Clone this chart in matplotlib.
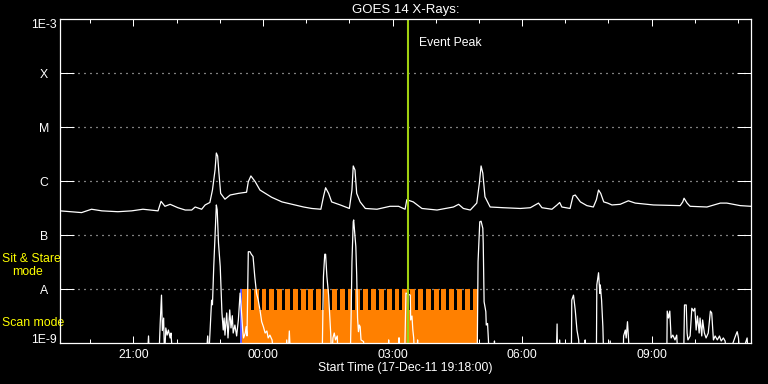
import matplotlib
matplotlib.use("Agg")
import matplotlib.pyplot as plt
from matplotlib.ticker import FixedLocator, NullLocator
import matplotlib.transforms as mtransforms

plt.rcParams['font.family'] = ['Liberation Sans', 'DejaVu Sans']
FS = 8.8

# ---------------- data ----------------
# time in decimal hours since 00:00 on 17-Dec-11 (24 = 00:00 on 18-Dec)
t_start, t_end = 19.3, 35.3
event_peak = 27.36

# GOES long channel (1-8 A), W/m^2
long_t = [19.30, 19.80, 20.03, 20.27, 20.64, 20.96, 21.22, 21.57, 21.64, 21.73,
          21.85, 22.03, 22.20, 22.35, 22.43, 22.58, 22.66, 22.77, 22.83, 22.89,
          22.92, 22.95, 22.98, 23.02, 23.12, 23.24, 23.43, 23.62, 23.66, 23.72,
          23.82, 23.93, 24.20, 24.44, 24.74, 24.94, 25.13, 25.34, 25.40, 25.45,
          25.52, 25.59, 25.79, 26.00, 26.06, 26.09, 26.13, 26.17, 26.25, 26.37,
          26.64, 26.94, 27.14, 27.29, 27.33, 27.48, 27.68, 28.03, 28.41, 28.53,
          28.64, 28.80, 28.95, 29.01, 29.05, 29.09, 29.14, 29.26, 29.57, 29.96,
          30.19, 30.38, 30.46, 30.69, 30.81, 30.87, 30.92, 31.11, 31.18, 31.23,
          31.35, 31.50, 31.65, 31.72, 31.77, 31.82, 31.89, 31.98, 32.08, 32.27,
          32.46, 32.62, 33.04, 33.66, 33.72, 33.75, 33.82, 33.89, 34.28, 34.59,
          34.74, 35.05, 35.30]
long_f = [2.8e-7, 2.6e-7, 3.0e-7, 2.8e-7, 2.7e-7, 2.8e-7, 3.0e-7, 2.8e-7, 4.2e-7, 3.4e-7,
          3.7e-7, 3.2e-7, 2.9e-7, 2.9e-7, 3.3e-7, 3.0e-7, 3.6e-7, 4.0e-7, 6.8e-7, 1.6e-6,
          3.3e-6, 2.9e-6, 1.4e-6, 5.9e-7, 4.6e-7, 5.5e-7, 5.9e-7, 6.2e-7, 9.7e-7, 1.24e-6,
          9.7e-7, 6.8e-7, 5.0e-7, 4.1e-7, 3.6e-7, 3.3e-7, 3.1e-7, 3.0e-7, 5.1e-7, 7.5e-7,
          5.9e-7, 4.1e-7, 3.6e-7, 3.1e-7, 6.8e-7, 1.9e-6, 1.6e-6, 5.9e-7, 4.1e-7, 3.1e-7,
          3.0e-7, 3.4e-7, 3.4e-7, 3.0e-7, 4.5e-7, 4.1e-7, 3.1e-7, 2.9e-7, 3.3e-7, 3.7e-7,
          3.1e-7, 2.9e-7, 3.9e-7, 9.1e-7, 1.9e-6, 1.4e-6, 5.1e-7, 3.3e-7, 3.2e-7, 3.1e-7,
          3.2e-7, 3.9e-7, 3.2e-7, 3.0e-7, 3.6e-7, 4.0e-7, 3.3e-7, 3.1e-7, 5.3e-7, 5.5e-7,
          4.1e-7, 3.5e-7, 3.3e-7, 4.5e-7, 6.8e-7, 5.9e-7, 4.1e-7, 3.9e-7, 3.6e-7, 3.7e-7,
          4.3e-7, 3.9e-7, 3.6e-7, 3.5e-7, 4.1e-7, 4.8e-7, 3.9e-7, 3.4e-7, 3.3e-7, 3.9e-7,
          3.9e-7, 3.5e-7, 3.4e-7]

# GOES short channel (0.5-4 A), W/m^2 (values below 1E-9 fall off the plot)
short_t = [19.30, 21.32, 21.35, 21.37, 21.59, 21.62, 21.65, 21.67, 21.70, 21.72,
           21.75, 21.78, 21.81, 21.85, 21.87, 21.91, 22.68, 22.72, 22.74, 22.77,
           22.81, 22.83, 22.86, 22.89, 22.92, 22.94, 22.97, 23.01, 23.05, 23.08,
           23.10, 23.12, 23.16, 23.19, 23.23, 23.26, 23.29, 23.31, 23.35, 23.39,
           23.43, 23.47, 23.50, 23.53, 23.55, 23.59, 23.61, 23.63, 23.66, 23.70,
           23.73, 23.77, 23.81, 23.85, 23.89, 23.93, 23.97, 24.01, 24.05, 24.09,
           24.12, 24.16, 24.21, 24.26, 24.53, 24.55, 24.58, 24.61, 24.64, 25.37,
           25.40, 25.43, 25.45, 25.48, 25.52, 25.54, 25.57, 25.59, 25.62, 25.65,
           25.68, 25.72, 25.74, 26.02, 26.04, 26.06, 26.09, 26.10, 26.13, 26.15,
           26.17, 26.19, 26.21, 26.23, 26.25, 26.27, 26.33, 26.35, 26.90, 26.91,
           26.92, 27.14, 27.15, 27.16, 27.28, 27.29, 27.31, 27.41, 27.42, 27.45,
           27.47, 27.49, 27.51, 27.57, 27.58, 27.59, 28.96, 28.98, 29.02, 29.05,
           29.09, 29.10, 29.12, 29.16, 29.17, 29.20, 29.22, 29.24, 29.35, 29.36,
           29.37, 30.79, 30.81, 30.82, 30.86, 30.87, 30.89, 31.14, 31.15, 31.19,
           31.23, 31.27, 31.31, 31.33, 31.45, 31.46, 31.47, 31.72, 31.73, 31.77,
           31.80, 31.81, 31.84, 31.87, 31.89, 32.02, 32.04, 32.06, 32.34, 32.35,
           32.39, 32.41, 32.44, 32.46, 32.49, 33.35, 33.36, 33.39, 33.42, 33.45,
           33.49, 33.54, 33.58, 33.61, 33.74, 33.76, 33.80, 33.82, 33.84, 33.89,
           33.93, 33.97, 34.00, 34.03, 34.06, 34.10, 34.12, 34.16, 34.18, 34.22,
           34.26, 34.31, 34.36, 34.39, 34.43, 34.47, 34.52, 34.57, 34.61, 34.66,
           34.70, 34.75, 34.94, 34.98, 35.01, 35.05, 35.21, 35.24, 35.30]
short_f = [5e-10, 5e-10, 1.35e-9, 5e-10, 5e-10, 2.3e-9, 7.7e-9, 1.7e-9, 2.9e-9, 5e-10,
           1.9e-9, 1.4e-9, 1.74e-9, 1.24e-9, 1.53e-9, 5e-10, 5e-10, 1.35e-9, 5e-10, 1.4e-9,
           6.2e-9, 5.1e-9, 2.6e-8, 9.3e-8, 3.6e-7, 2.9e-7, 7.1e-8, 2.6e-8, 3.6e-9, 1.74e-9,
           2.9e-9, 1.4e-9, 3.6e-9, 1.24e-9, 4.1e-9, 1.9e-9, 3.2e-9, 1.53e-9, 2.15e-9, 1.35e-9,
           2.67e-9, 8.4e-9, 4.1e-9, 1.74e-9, 1.24e-9, 1.53e-9, 2.0e-9, 1.35e-9, 4.9e-8, 4.9e-8,
           4.4e-8, 4.0e-8, 1.69e-8, 8.4e-9, 6.25e-9, 4.1e-9, 2.48e-9, 2.0e-9, 1.53e-9, 1.67e-9,
           1.24e-9, 1.4e-9, 1.14e-9, 5e-10, 5e-10, 1.14e-9, 5e-10, 1.67e-9, 5e-10, 5e-10,
           1.69e-8, 4.4e-8, 4.4e-8, 1.69e-8, 7.7e-9, 3.8e-9, 1.4e-9, 5e-10, 1.24e-9, 1.53e-9,
           1.14e-9, 1.35e-9, 5e-10, 5e-10, 2.9e-9, 3.2e-8, 1.76e-7, 1.9e-7, 9.3e-8, 6.1e-8,
           1.8e-8, 2.9e-9, 1.62e-9, 2.15e-9, 2.0e-9, 1.14e-9, 1.06e-9, 5e-10, 5e-10, 1.14e-9,
           5e-10, 5e-10, 1.25e-9, 5e-10, 5e-10, 1.22e-9, 8.4e-9, 7.7e-9, 2.67e-9, 3.16e-9,
           1.74e-9, 1.24e-9, 5e-10, 5e-10, 1.14e-9, 5e-10, 5e-10, 3.2e-8, 1.76e-7, 1.8e-7,
           1.33e-7, 7.0e-8, 5.8e-9, 3.8e-9, 2.15e-9, 2.3e-9, 1.14e-9, 5e-10, 5e-10, 1.09e-9,
           5e-10, 5e-10, 2.25e-9, 5e-10, 5e-10, 1.14e-9, 5e-10, 5e-10, 6.25e-9, 7.7e-9,
           4.1e-9, 1.74e-9, 1.14e-9, 5e-10, 5e-10, 1.14e-9, 5e-10, 5e-10, 1.19e-8, 2.0e-8,
           8.3e-9, 1.19e-8, 6.25e-9, 2.0e-9, 5e-10, 5e-10, 1.09e-9, 5e-10, 5e-10, 1.35e-9,
           1.74e-9, 1.24e-9, 2.48e-9, 1.35e-9, 5e-10, 5e-10, 3.9e-9, 2.9e-9, 3.9e-9, 1.24e-9,
           1.4e-9, 1.14e-9, 1.4e-9, 5e-10, 5e-10, 5.06e-9, 5.06e-9, 1.53e-9, 1.14e-9, 1.35e-9,
           4.4e-9, 3.9e-9, 4.4e-9, 1.74e-9, 3.16e-9, 1.53e-9, 2.9e-9, 1.35e-9, 2.67e-9, 1.53e-9,
           1.24e-9, 1.53e-9, 3.9e-9, 3.6e-9, 1.14e-9, 1.35e-9, 1.14e-9, 1.35e-9, 1.09e-9, 1.24e-9,
           1.09e-9, 5e-10, 1.35e-9, 1.62e-9, 1.24e-9, 5e-10, 1.24e-9, 5e-10, 5e-10]

# observing mode timeline
sit_stare_start, sit_stare_end = 23.458, 23.516
scan_start, scan_end = 23.516, 28.976
scan_gap_starts = [23.717, 23.899, 24.080, 24.261, 24.442, 24.623, 24.804, 24.985,
                   25.167, 25.348, 25.529, 25.710, 25.891, 26.072, 26.253, 26.434,
                   26.616, 26.797, 26.978, 27.159, 27.340, 27.521, 27.702, 27.883,
                   28.065, 28.246, 28.427, 28.608, 28.789]
scan_gap_len = 0.068
scan_high, scan_low = 1e-8, 4.14e-9

# axis labels
ytick_vals = [1e-9, 1e-8, 1e-7, 1e-6, 1e-5, 1e-4, 1e-3]
ytick_labels = ['1E-9', 'A', 'B', 'C', 'M', 'X', '1E-3']
xtick_vals = [21, 24, 27, 30, 33]
xtick_labels = ['21:00', '00:00', '03:00', '06:00', '09:00']
xminor_vals = [20, 22, 23, 25, 26, 28, 29, 31, 32, 34, 35]

# ---------------- figure ----------------
fig = plt.figure(figsize=(7.68, 3.84), dpi=100, facecolor='black')
ax = fig.add_axes([60/768, 1 - 343/384, 691/768, 324/384], facecolor='black')
ax.set_yscale('log')
ax.set_xlim(t_start, t_end)
ax.set_ylim(1e-9, 1e-3)

orange = '#ff8000'
# scan mode band
ax.broken_barh([(scan_start, scan_end - scan_start)], (1e-9, scan_low - 1e-9),
               facecolors=orange, edgecolor='none', zorder=2)
teeth = []
prev = scan_start
for g in scan_gap_starts:
    teeth.append((prev, g - prev))
    prev = g + scan_gap_len
teeth.append((prev, scan_end - prev))
ax.broken_barh(teeth, (1e-9, scan_high - 1e-9), facecolors=orange,
               edgecolor='none', zorder=2)
ax.broken_barh([(sit_stare_start, sit_stare_end - sit_stare_start)],
               (1e-9, scan_high - 1e-9), facecolors='#5a5aff',
               edgecolor='none', zorder=2)

ax.plot(long_t, long_f, color='white', lw=0.9, zorder=3)
ax.plot(short_t, short_f, color='white', lw=0.9, zorder=3)

ax.axvline(event_peak, color='#a0d010', lw=1.5, zorder=4)
ax.annotate('Event Peak', xy=(event_peak, 3.6e-4), xytext=(7.5, 0),
            textcoords='offset points', color='white', va='center', ha='left',
            fontsize=FS)

# grid
for yv in ytick_vals[1:-1]:
    ax.axhline(yv, color='white', lw=0.9, linestyle=(0, (0.8, 4.0)), zorder=1.6)

# ticks
ax.yaxis.set_major_locator(FixedLocator(ytick_vals))
ax.yaxis.set_minor_locator(NullLocator())
ax.set_yticklabels(ytick_labels)
ax.tick_params(axis='y', which='major', direction='in', length=10.3, width=0.72,
               color='white', labelcolor='white', left=True, right=True,
               pad=11.5, labelsize=FS)
for lab in ax.get_yticklabels():
    lab.set_horizontalalignment('center')
ylabs = ax.get_yticklabels()
ylabs[0].set_verticalalignment('baseline')
ylabs[-1].set_verticalalignment('top')

ax.set_xticks(xtick_vals)
ax.set_xticklabels(xtick_labels)
ax.set_xticks(xminor_vals, minor=True)
ax.tick_params(axis='x', which='major', direction='in', length=4.8, width=0.72,
               color='white', labelcolor='white', top=True, bottom=True,
               pad=4.0, labelsize=FS)
ax.tick_params(axis='x', which='minor', direction='in', length=3.1, width=0.72,
               color='white', top=True, bottom=True)

for s in ax.spines.values():
    s.set_color('white')
    s.set_linewidth(0.9)
    s.set_zorder(5)

ax.set_xlabel('Start Time (17-Dec-11 19:18:00)', color='white', fontsize=FS,
              labelpad=1)
ax.set_title('GOES 14 X-Rays:', color='white', fontsize=9.5, pad=4.5)

# mode labels on the left
trans = mtransforms.blended_transform_factory(fig.transFigure, ax.transData)
ax.text(2/768, 3.6e-8, 'Sit & Stare', transform=trans, color='yellow',
        ha='left', va='center', fontsize=FS, clip_on=False)
ax.text(12.5/768, 2.1e-8, 'mode', transform=trans, color='yellow',
        ha='left', va='center', fontsize=FS, clip_on=False)
ax.text(2/768, 2.3e-9, 'Scan mode', transform=trans, color='yellow',
        ha='left', va='center', fontsize=FS, clip_on=False)

fig.savefig('out.png', dpi=100, facecolor='black')
